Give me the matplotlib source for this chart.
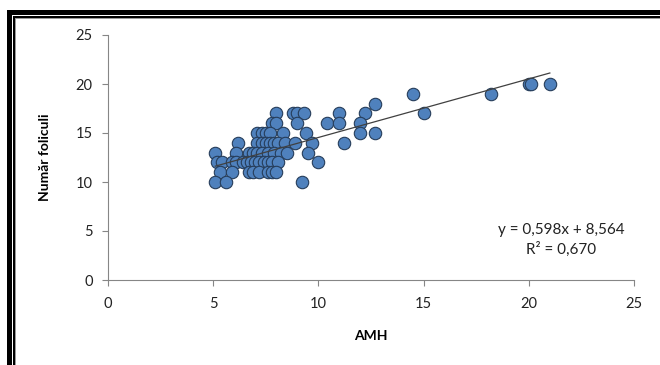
import matplotlib
matplotlib.use('Agg')
import matplotlib.pyplot as plt
import numpy as np
from matplotlib.patches import Rectangle

# AMH values (x) grouped by follicle count (y)
amh_by_count = {
    20: [20.0, 20.1, 21.0],
    19: [14.5, 18.2],
    18: [12.7],
    17: [8.0, 8.8, 9.0, 9.3, 11.0, 12.2, 15.0],
    16: [7.8, 8.0, 9.0, 10.4, 11.0, 12.0],
    15: [7.1, 7.3, 7.5, 7.7, 8.3, 9.4, 12.0, 12.7],
    14: [6.2, 7.1, 7.3, 7.5, 7.7, 7.9, 8.1, 8.4, 8.9, 9.7, 11.2],
    13: [5.1, 6.1, 6.7, 6.9, 7.1, 7.3, 7.6, 7.9, 8.2, 8.5, 9.5],
    12: [5.2, 5.4, 5.9, 6.1, 6.4, 6.6, 6.8, 7.0, 7.2, 7.4, 7.6, 7.8, 8.1, 10.0],
    11: [5.3, 5.9, 6.7, 6.9, 7.2, 7.6, 7.8, 8.0],
    10: [5.1, 5.6, 9.2],
}
amh = [x for y, xs in amh_by_count.items() for x in xs]
foliculi = [y for y, xs in amh_by_count.items() for x in xs]

slope = 0.598
intercept = 8.564
r2 = 0.670

x_ticks = [0, 5, 10, 15, 20, 25]
y_ticks = [0, 5, 10, 15, 20, 25]

plt.rcParams['font.family'] = ['Lato', 'DejaVu Sans']

W, H = 660, 365
fig = plt.figure(figsize=(W / 100, H / 100), dpi=100)
ax = fig.add_axes([108 / W, 1 - 280 / H, (634 - 108) / W, (280 - 35) / H])

ax.scatter(amh, foliculi, s=80, facecolor='#4F81BD', edgecolor='#263D5A',
           linewidth=0.8, zorder=3)

x_fit = np.array([min(amh), max(amh)])
ax.plot(x_fit, slope * x_fit + intercept, color='#404040', linewidth=0.9, zorder=4)

ax.set_xlim(0, 25)
ax.set_ylim(0, 25)
ax.set_xticks(x_ticks)
ax.set_yticks(y_ticks)
for side in ['top', 'right']:
    ax.spines[side].set_visible(False)
for side in ['left', 'bottom']:
    ax.spines[side].set_color('#868686')
    ax.spines[side].set_linewidth(0.8)
ax.tick_params(axis='both', direction='out', length=4, width=0.8,
               color='#868686', labelsize=10.5, labelcolor='#222222')
ax.tick_params(axis='x', pad=8)
ax.tick_params(axis='y', pad=7)

ax.set_xlabel('AMH', fontsize=10, fontweight='bold', labelpad=14)
ax.set_ylabel('Număr foliculi', fontsize=10, fontweight='bold', labelpad=18)

fig.text(561 / W, 1 - 230 / H, f'y = {slope:.3f}x + {intercept:.3f}'.replace('.', ','),
         ha='center', va='center', fontsize=11, color='#222222')
fig.text(561 / W, 1 - 249 / H, f'R² = {r2:.3f}'.replace('.', ','),
         ha='center', va='center', fontsize=11, color='#222222')

# double frame around the chart
def frame(x0, y0, w, color):
    fig.add_artist(Rectangle((x0 / W, 0), w / W, 1 - y0 / H,
                             transform=fig.transFigure, color=color, lw=0))
    fig.add_artist(Rectangle((x0 / W, 1 - (y0 + w) / H), 1 - x0 / W, w / H,
                             transform=fig.transFigure, color=color, lw=0))

frame(7, 10, 4.5, 'black')
frame(13, 16, 2.2, 'black')
frame(15.2, 18.2, 1.2, '#9a9a9a')

fig.savefig('out.png', dpi=100)
